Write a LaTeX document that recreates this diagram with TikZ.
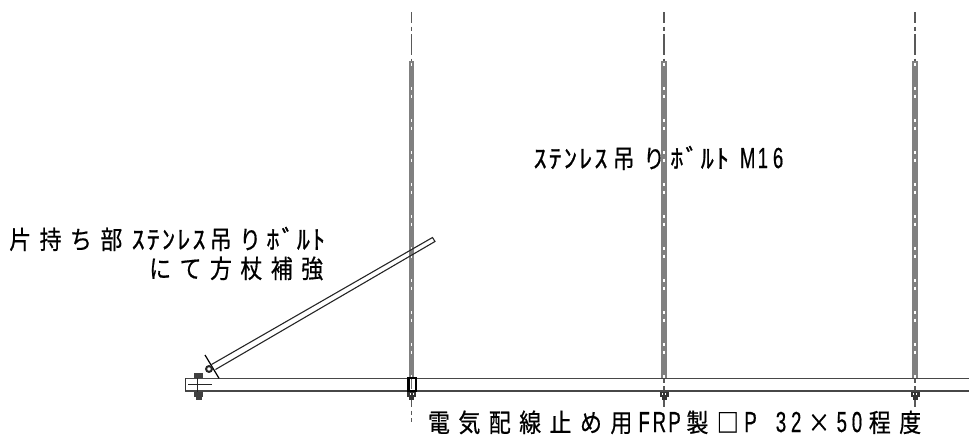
\documentclass[tikz,border=0pt]{standalone}
\usepackage{fontspec}
\newfontfamily\jpfont[FakeStretch=0.86,FakeBold=0.6]{Noto Sans CJK JP}
\newfontfamily\kanafont[FakeStretch=1.0,FakeBold=1.0]{Noto Sans CJK JP}
\newfontfamily\latfont[FakeStretch=0.64,FakeBold=0.5]{Liberation Sans}
\newcommand{\Fc}[1]{\makebox[30.4pt][c]{\fontsize{25.5}{28}\jpfont #1}}
\newcommand{\Hc}[1]{\makebox[15.2pt][c]{\fontsize{26}{28}\kanafont #1}}
\newcommand{\Lc}[1]{\makebox[15.2pt][c]{\fontsize{29}{30}\latfont #1}}
\tikzset{
  lbl/.style={anchor=base west,inner sep=0pt,outer sep=0pt,black},
  beamline/.style={line width=1.6pt,black!72},
  centerline/.style={line width=1.5pt,black!65,dash pattern=on 21pt off 3.5pt on 4pt off 3.5pt,dash phase=10pt},
  boltgaps/.style={line width=1.5pt,white,dash pattern=on 3pt off 4.5pt on 3pt off 21.5pt,dash phase=6pt}
}
\begin{document}
\begin{tikzpicture}[x=1pt,y=-1pt]
\useasboundingbox (0,0) rectangle (969,442);
% bolts
\foreach \x/\e in {411.5/422,664/410,915/410}{
  \draw[centerline] (\x,12) -- (\x,\e);
  \fill[black!50] (\x-2.7,61) rectangle (\x+2.7,378);
  \draw[boltgaps] (\x,61) -- (\x,378);
  \fill[black!80] (\x-4.5,392) rectangle (\x+4.5,396.5);
  \fill[black!80] (\x-2.5,396.5) rectangle (\x+2.5,400);
  \fill[white] (\x-2,392.8) rectangle (\x-1,394.5);
  \fill[white] (\x+1,392.8) rectangle (\x+2,394.5);
}
% beam
\draw[beamline] (185,378.3) -- (969,378.3);
\draw[beamline] (185,391) -- (969,391);
\draw[line width=1pt,black!80] (185,378.3) -- (185,391);
% thick collar at first bolt
\draw[line width=2.2pt,black] (408.4,378.3) rectangle (415.6,391);
\fill[white] (409.6,379.5) rectangle (414.4,390);
\draw[line width=1.4pt,black!55] (411.5,380) -- (411.5,389);
% brace
\coordinate (b1) at (211.5,364.5);
\coordinate (b2) at (215.5,369.5);
\coordinate (b3) at (432.5,237.5);
\coordinate (b4) at (435,241.5);
\draw[line width=1.1pt,black!85] (b1) -- (b3) -- (b4) -- (b2);
\draw[line width=1.2pt,black] (205,355) -- (219,378.3);
\draw[line width=2pt,black!85] (209,369) circle (2.9pt);
% cantilever end bolt
\draw[line width=1pt,black!85] (197.8,373) -- (197.8,398);
\draw[line width=1pt,black!85] (188,384.5) -- (212,384.5);
\fill[black!75] (194,373) rectangle (203,378);
\fill[black!75] (194,392) rectangle (203,397);
\fill[black!75] (195.5,397) rectangle (201.5,400);
% labels
\node[lbl] (lab1) at (5,249) {\Fc{片}\Fc{持}\Fc{ち}\Fc{部}\kern4pt\Hc{ｽ}\Hc{ﾃ}\Hc{ﾝ}\Hc{ﾚ}\Hc{ｽ}\kern-1pt\Fc{吊}\kern-1pt\Fc{り}\Hc{ﾎ}\Hc{ﾞ}\Hc{ﾙ}\Hc{ﾄ}};
\node[lbl] (lab2) at (145,278) {\Fc{に}\Fc{て}\Fc{方}\Fc{杖}\Fc{補}\Fc{強}};
\node[lbl] (lab3) at (532.5,168) {\Hc{ｽ}\Hc{ﾃ}\Hc{ﾝ}\Hc{ﾚ}\Hc{ｽ}\Fc{吊}\Fc{り}\Hc{ﾎ}\Hc{ﾞ}\Hc{ﾙ}\Hc{ﾄ}\kern10pt\Lc{M}\Lc{1}\Lc{6}};
\node[lbl] (lab4) at (423.8,432) {\Fc{電}\Fc{気}\Fc{配}\Fc{線}\Fc{止}\Fc{め}\Fc{用}\Lc{F}\Lc{R}\Lc{P}\Fc{製}\Fc{□}\Lc{P}\Lc{~}\Lc{3}\Lc{2}\Fc{×}\Lc{5}\Lc{0}\Fc{程}\Fc{度}};
\end{tikzpicture}
\end{document}
